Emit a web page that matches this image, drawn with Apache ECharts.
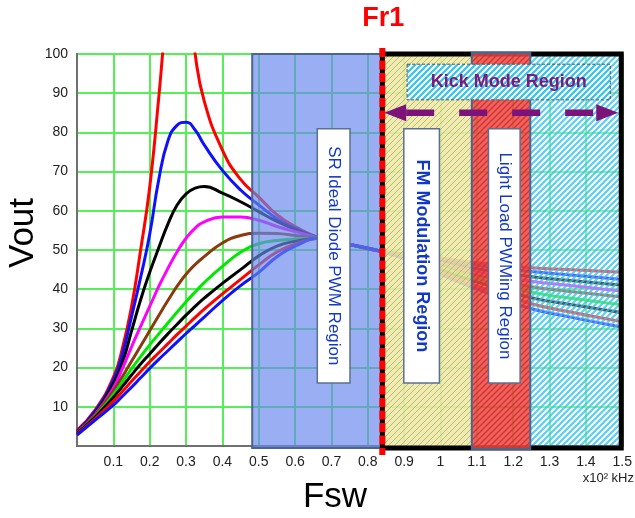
<!DOCTYPE html>
<html>
<head>
<meta charset="utf-8">
<script src="https://cdn.jsdelivr.net/npm/echarts@6/dist/echarts.min.js"></script>
<style>html,body{margin:0;padding:0;background:#fff}#c{width:635px;height:518px}</style>
</head>
<body>
<div id="c"></div>
<script>
// ---------- data ----------
const fsw = [0, 0.05, 0.1, 0.125, 0.15, 0.175, 0.2, 0.225, 0.25, 0.275, 0.3, 0.325, 0.35, 0.4, 0.45, 0.5, 0.55, 0.6, 0.67, 0.75, 0.84, 0.95, 1.05, 1.15, 1.25, 1.35, 1.5];
const vRed1    = [4.0, 9.2, 17.5, 25.0, 35.5, 50.0, 66.0, 89.0, 114, 130, 120, 100, 88.0, 75.5, 68.0, 63.5, 59.0, 56.0, 53, 51.4, 49.6, 48.6, 47.3, 46.3, 45.5, 45.0, 44.3];
const vBlue1   = [3.8, 8.9, 16.8, 23.5, 33.0, 43.0, 54.0, 68.0, 77.8, 81.8, 82.6, 80.6, 76.8, 70.3, 65.3, 61.5, 58.0, 55.5, 53, 51.4, 49.6, 48.4, 46.8, 45.5, 44.5, 43.7, 42.5];
const vBlack1  = [3.6, 8.4, 15.9, 21.3, 29.3, 37.3, 44.3, 50.6, 56.6, 61.4, 64.3, 65.8, 66.2, 64.5, 62.3, 59.8, 57.3, 55.3, 53, 51.4, 49.6, 48.1, 46.1, 44.5, 43.2, 42.3, 41.0];
const vMagenta = [3.5, 8.1, 14.8, 19.8, 25.3, 30.5, 35.6, 40.7, 45.3, 49.5, 53.0, 55.6, 57.2, 58.4, 58.4, 57.6, 56.0, 54.7, 53, 51.4, 49.6, 47.8, 45.5, 43.6, 42.0, 41.0, 39.5];
const vBrown   = [3.4, 7.9, 14.0, 17.7, 21.6, 25.5, 29.4, 33.3, 37.1, 40.7, 43.8, 46.3, 48.3, 51.8, 53.7, 54.3, 54.2, 53.7, 53, 51.4, 49.6, 47.4, 44.8, 42.5, 40.6, 39.5, 38.0];
const vGreen   = [3.3, 7.6, 13.1, 16.4, 19.7, 22.8, 25.8, 28.6, 31.4, 34.1, 36.8, 39.3, 41.7, 45.8, 49.4, 51.6, 52.4, 52.8, 53, 51.4, 49.6, 47.0, 44.0, 41.5, 39.2, 37.8, 36.0];
const vBlack2  = [3.2, 7.4, 12.4, 15.2, 18.1, 20.9, 23.5, 26.1, 28.6, 31.0, 33.4, 35.6, 37.7, 41.5, 45.0, 48.5, 51.0, 52.2, 53, 51.4, 49.6, 46.6, 43.3, 40.5, 37.8, 36.2, 34.0];
const vRed2    = [3.0, 7.0, 11.4, 13.9, 16.5, 19.0, 21.5, 23.8, 26.1, 28.4, 30.6, 32.8, 34.9, 38.8, 42.5, 46.2, 49.5, 51.5, 53, 51.4, 49.6, 46.2, 42.5, 39.2, 36.3, 34.3, 31.7];
const vBlue2   = [2.8, 6.6, 10.4, 12.7, 15.0, 17.4, 19.8, 22.1, 24.3, 26.5, 28.7, 30.8, 32.9, 37.1, 40.9, 44.3, 48.3, 51.0, 53, 51.4, 49.6, 45.8, 41.8, 38.3, 35.0, 33.0, 30.3];
const curveValues = [vRed1, vBlue1, vBlack1, vMagenta, vBrown, vGreen, vBlack2, vRed2, vBlue2];
const curveColors = ['#ff0000', '#1010ff', '#000000', '#ff00ff', '#8b3a0f', '#00e800', '#000000', '#ff0000', '#1010ff'];

const yTicks = [10, 20, 30, 40, 50, 60, 70, 80, 90, 100];
const xTicks = [0.1, 0.2, 0.3, 0.4, 0.5, 0.6, 0.7, 0.8, 0.9, 1, 1.1, 1.2, 1.3, 1.4, 1.5];

// annotation regions (in axis units)
const fr1 = 0.84;
const regionStart = [0.482, 0.84, 1.086, 1.247];
const regionEnd   = [0.84, 1.086, 1.247, 1.5];
const boxLabels = ['SR Ideal Diode PWM Region', 'FM Modulation Region', 'Light Load PWMing Region'];
const boxStart = [0.661, 0.899, 1.132];
const boxEnd   = [0.751, 0.997, 1.219];
const boxV     = [16.1, 80.9];
const kickLabel = 'Kick Mode Region';
const kickX = [0.908, 1.467];
const kickV = [88.3, 97.4];
const arrowX = [0.845, 1.489];
const arrowV = 85;

// ---------- patterns ----------
function hatch(bg, stroke, s, w) {
  const cv = document.createElement('canvas');
  cv.width = s; cv.height = s;
  const g = cv.getContext('2d');
  g.fillStyle = bg; g.fillRect(0, 0, s, s);
  g.strokeStyle = stroke; g.lineWidth = w;
  g.beginPath();
  g.moveTo(-1, s + 1); g.lineTo(s + 1, -1);
  g.moveTo(-s / 2 - 1, s / 2 + 1); g.lineTo(s / 2 + 1, -s / 2 - 1);
  g.moveTo(s / 2 - 1, s * 1.5 + 1); g.lineTo(s * 1.5 + 1, s / 2 - 1);
  g.stroke();
  return cv;
}
const patYellow = { image: hatch('rgba(247,231,158,0.9)', 'rgba(110,190,160,0.75)', 6, 1.0), repeat: 'repeat' };
const patCyan = { image: hatch('rgba(255,255,255,0.32)', 'rgba(50,195,238,0.8)', 6, 2.2), repeat: 'repeat' };
const patCyanBox = { image: hatch('rgba(255,255,255,0.95)', 'rgba(50,195,238,1)', 6, 2.2), repeat: 'repeat' };
const patRed = { image: hatch('rgba(240,72,66,0.86)', 'rgba(205,50,50,0.9)', 6, 1.5), repeat: 'repeat' };

const FONT = '"Liberation Sans", Arial, sans-serif';
const slate = '#4a6690';

function renderOverlay(params, api) {
  const c = (x, y) => api.coord([x, y]);
  const rectOf = (x0, x1, v0, v1, extTop, extBot) => {
    const a = c(x0, v1), b = c(x1, v0);
    return { x: a[0], y: a[1] - (extTop || 0), width: b[0] - a[0], height: b[1] - a[1] + (extTop || 0) + (extBot || 0) };
  };
  const ch = [];
  ch.push({ type: 'rect', shape: rectOf(regionStart[0], regionEnd[0], 0, 100, 0, 2),
    style: { fill: 'rgba(105,135,238,0.68)', stroke: slate, lineWidth: 2 } });
  ch.push({ type: 'rect', shape: rectOf(regionStart[1], regionEnd[1], 0, 100), style: { fill: patYellow } });
  ch.push({ type: 'rect', shape: rectOf(regionStart[3], regionEnd[3], 0, 100), style: { fill: patCyan } });
  const tl = c(regionStart[1], 100), tr = c(regionEnd[3], 100), br = c(regionEnd[3], 0), bl = c(regionStart[1], 0);
  ch.push({ type: 'polyline', shape: { points: [[tl[0], tl[1]], [tr[0] - 1, tr[1]], [br[0] - 1, br[1] + 2], [bl[0], bl[1] + 2]] },
    style: { stroke: '#000', lineWidth: 5, fill: null } });
  ch.push({ type: 'rect', shape: rectOf(regionStart[2], regionEnd[2], 0, 100, 1, 3),
    style: { fill: patRed, stroke: slate, lineWidth: 2 } });
  ch.push({ type: 'rect', shape: rectOf(kickX[0], kickX[1], kickV[0], kickV[1]),
    style: { fill: patCyanBox, stroke: '#555', lineWidth: 1, lineDash: [3, 2] } });
  const kc = c((kickX[0] + kickX[1]) / 2, (kickV[0] + kickV[1]) / 2);
  ch.push({ type: 'text', x: kc[0], y: kc[1], style: { text: kickLabel, fill: '#7a1a7a',
    font: 'bold 18px ' + FONT, align: 'center', verticalAlign: 'middle' } });
  const aL = c(arrowX[0], arrowV), aR = c(arrowX[1], arrowV);
  const head = 22, hh = 8.5;
  ch.push({ type: 'line', shape: { x1: aL[0] + head, y1: aL[1], x2: aR[0] - head, y2: aR[1] },
    style: { stroke: '#7b137b', lineWidth: 6.5, lineDash: [28, 25] } });
  ch.push({ type: 'polygon', shape: { points: [[aL[0], aL[1]], [aL[0] + head, aL[1] - hh], [aL[0] + head, aL[1] + hh]] },
    style: { fill: '#7b137b' } });
  ch.push({ type: 'polygon', shape: { points: [[aR[0], aR[1]], [aR[0] - head, aR[1] - hh], [aR[0] - head, aR[1] + hh]] },
    style: { fill: '#7b137b' } });
  for (let i = 0; i < boxLabels.length; i++) {
    ch.push({ type: 'rect', shape: rectOf(boxStart[i], boxEnd[i], boxV[0], boxV[1]),
      style: { fill: '#ffffff', stroke: '#5b6f92', lineWidth: 1.5 } });
    const m = c((boxStart[i] + boxEnd[i]) / 2, (boxV[0] + boxV[1]) / 2);
    ch.push({ type: 'text', x: m[0], y: m[1], rotation: -Math.PI / 2,
      style: { text: boxLabels[i], fill: '#1238c8',
        font: (i === 1 ? 'bold 18px ' : '17px ') + FONT, align: 'center', verticalAlign: 'middle' } });
  }
  const fTop = c(fr1, 100), fBot = c(fr1, 0);
  ch.push({ type: 'line', shape: { x1: fTop[0], y1: fTop[1] - 6, x2: fBot[0], y2: fBot[1] + 9 },
    style: { stroke: '#000', lineWidth: 5 } });
  ch.push({ type: 'line', shape: { x1: fTop[0], y1: fTop[1] - 6, x2: fBot[0], y2: fBot[1] + 9 },
    style: { stroke: '#ff0000', lineWidth: 6, lineDash: [9, 3.5] } });
  ch.push({ type: 'text', x: fTop[0] + 1, y: fTop[1] - 35, style: { text: 'Fr1', fill: '#ff0000',
    font: 'bold 27px ' + FONT, align: 'center', verticalAlign: 'middle' } });
  return { type: 'group', children: ch };
}

const series = curveValues.map((vals, i) => ({
  type: 'line', smooth: 0.5, symbol: 'none', z: 2, silent: true,
  data: fsw.map((x, j) => [x, vals[j]]),
  lineStyle: { color: curveColors[i], width: 3 }
}));
series.push({ type: 'custom', z: 5, clip: false, silent: true, data: [[0, 0]], renderItem: renderOverlay });

const chart = echarts.init(document.getElementById('c'), null, { renderer: 'canvas' });
chart.setOption({
  animation: false,
  backgroundColor: '#ffffff',
  grid: { left: 77, right: 11, top: 54, bottom: 72, show: true, borderColor: '#707070', borderWidth: 2 },
  xAxis: {
    type: 'value', min: 0, max: 1.5, interval: 0.1,
    axisLine: { show: true, lineStyle: { color: '#707070', width: 2 } },
    axisTick: { show: false },
    splitLine: { show: true, lineStyle: { color: '#55f055', width: 2 } },
    axisLabel: { color: '#222', fontSize: 14, fontFamily: FONT, margin: 9,
      formatter: v => (xTicks.some(t => Math.abs(t - v) < 1e-6) ? String(+v.toFixed(1)) : '') }
  },
  yAxis: {
    type: 'value', min: 0, max: 100, interval: 10,
    axisLine: { show: true, lineStyle: { color: '#707070', width: 2 } },
    axisTick: { show: false },
    splitLine: { show: true, lineStyle: { color: '#55f055', width: 2 } },
    axisLabel: { color: '#222', fontSize: 14, fontFamily: FONT, margin: 9,
      formatter: v => (yTicks.indexOf(Math.round(v)) >= 0 ? String(Math.round(v)) : '') }
  },
  graphic: [
    { type: 'text', x: 23, y: 233, rotation: Math.PI / 2,
      style: { text: 'Vout', font: '35px ' + FONT, fill: '#000', align: 'center', verticalAlign: 'middle' } },
    { type: 'text', x: 335, y: 497,
      style: { text: 'Fsw', font: '35px ' + FONT, fill: '#000', align: 'center', verticalAlign: 'middle' } },
    { type: 'text', x: 634, y: 478,
      style: { text: 'x10² kHz', font: '13px ' + FONT, fill: '#222', align: 'right', verticalAlign: 'middle' } }
  ],
  series: series
});
</script>
</body>
</html>
